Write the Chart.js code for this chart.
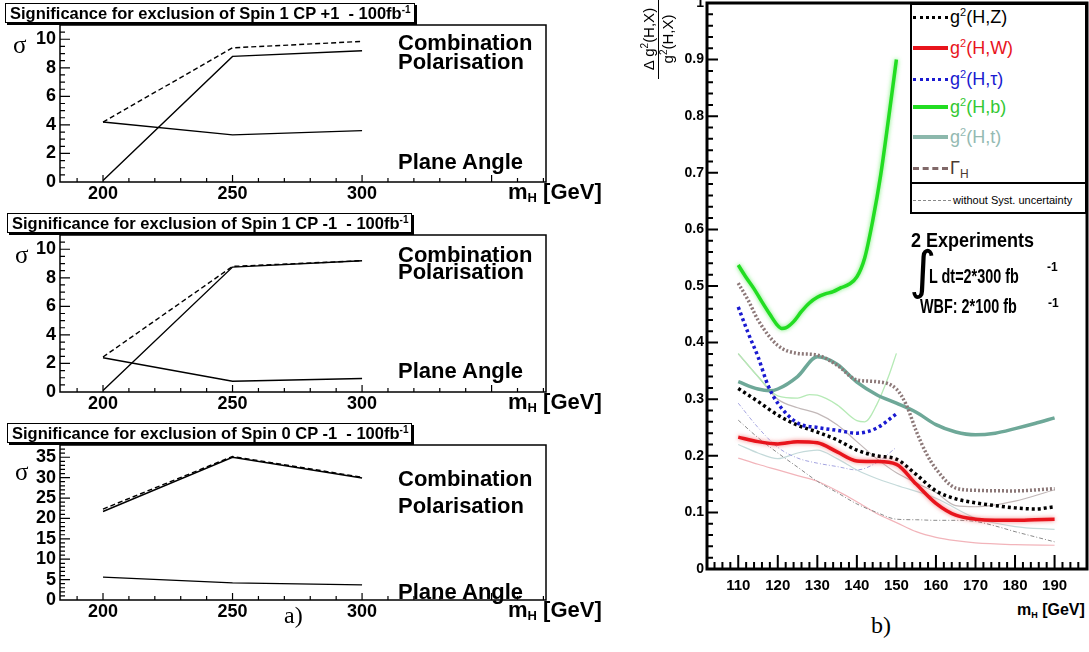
<!DOCTYPE html>
<html><head><meta charset="utf-8">
<script src="https://cdn.jsdelivr.net/npm/chart.js@4.4.1/dist/chart.umd.min.js"></script>
<style>
html,body{margin:0;padding:0;background:#fff;}
body{width:1089px;height:652px;position:relative;overflow:hidden;font-family:"Liberation Sans",Arial,Helvetica,sans-serif;}
canvas{position:absolute;}
.t{position:absolute;white-space:nowrap;color:#000;line-height:1;}
.b{font-weight:bold;}
.title{position:absolute;border:1px solid #000;box-shadow:2px 2px 0 #000;background:#fff;font-weight:bold;font-size:16.5px;height:18px;line-height:18px;padding:0 3px 0 4px;white-space:nowrap;}
.title .sp{font-size:10px;position:relative;top:-6px;}
.big{font-size:22px;font-weight:bold;}
.sig{font-family:"Liberation Serif","Times New Roman",serif;font-size:25px;}
.leg{position:absolute;left:950px;font-size:18px;line-height:20px;height:20px;white-space:nowrap;}
.leg .sp{font-size:11px;position:relative;top:-7px;}
.sw{position:absolute;left:913px;width:35px;height:0;}
.scx{transform-origin:0 0;}
</style></head>
<body>
<canvas id="c1" width="610" height="205" style="left:0;top:0"></canvas>
<canvas id="c2" width="610" height="205" style="left:0;top:210px"></canvas>
<canvas id="c3" width="610" height="203" style="left:0;top:420px"></canvas>
<canvas id="c4" width="479" height="612" style="left:610px;top:-12px"></canvas>

<!-- panel a) texts -->
<div class="title" style="left:5px;top:3px">Significance for exclusion of Spin 1 CP +1&nbsp; - 100fb<span class="sp">-1</span></div>
<div class="title" style="left:7px;top:213px">Significance for exclusion of Spin 1 CP -1&nbsp; - 100fb<span class="sp">-1</span></div>
<div class="title" style="left:7px;top:423px">Significance for exclusion of Spin 0 CP -1&nbsp; - 100fb<span class="sp">-1</span></div>

<div class="t sig" style="left:13px;top:32px">σ</div>
<div class="t sig" style="left:15px;top:242px">σ</div>
<div class="t sig" style="left:15px;top:459px">σ</div>

<div class="t big" style="left:398px;top:32px">Combination</div>
<div class="t big" style="left:398px;top:51px">Polarisation</div>
<div class="t big" style="left:398px;top:151px">Plane Angle</div>
<div class="t big" style="left:398px;top:244px">Combination</div>
<div class="t big" style="left:398px;top:261px">Polarisation</div>
<div class="t big" style="left:398px;top:360px">Plane Angle</div>
<div class="t big" style="left:398px;top:468px">Combination</div>
<div class="t big" style="left:398px;top:495px">Polarisation</div>
<div class="t big" style="left:398px;top:581px">Plane Angle</div>

<div class="t big" style="left:508px;top:181px">m<span style="font-size:13px;position:relative;top:3px">H</span> [GeV]</div>
<div class="t big" style="left:508px;top:391px">m<span style="font-size:13px;position:relative;top:3px">H</span> [GeV]</div>
<div class="t big" style="left:508px;top:599px">m<span style="font-size:13px;position:relative;top:3px">H</span> [GeV]</div>

<div class="t" style="left:284px;top:603px;font-family:'Liberation Serif','Times New Roman',serif;font-size:24px">a)</div>
<div class="t" style="left:871px;top:613px;font-family:'Liberation Serif','Times New Roman',serif;font-size:24px">b)</div>

<!-- panel b) texts -->
<div style="position:absolute;left:620px;top:19px;width:80px;height:40px;transform:rotate(-90deg);transform-origin:center;font-size:15px;line-height:18px;text-align:center;">
  <div style="border-bottom:1.5px solid #000;height:18px;">Δ g<span style="font-size:10px;position:relative;top:-6px">2</span>(H,X)</div>
  <div style="height:18px;">g<span style="font-size:10px;position:relative;top:-6px">2</span>(H,X)</div>
</div>

<div style="position:absolute;left:910px;top:3px;width:173px;height:207px;border:2px solid #000;background:#fff;"></div>
<div style="position:absolute;left:910px;top:182px;width:177px;height:2px;background:#000;"></div>

<div class="sw" style="top:16px;border-top:3px dotted #000;"></div>
<div class="leg" style="top:7px;color:#000">g<span class="sp">2</span>(H,Z)</div>
<div class="sw" style="top:46px;border-top:4px solid #e8141c;"></div>
<div class="leg" style="top:38px;color:#e8141c">g<span class="sp">2</span>(H,W)</div>
<div class="sw" style="top:78px;border-top:3px dotted #1a1ad0;"></div>
<div class="leg" style="top:69px;color:#1a1ad0">g<span class="sp">2</span>(H,τ)</div>
<div class="sw" style="top:105px;border-top:4px solid #22dd22;"></div>
<div class="leg" style="top:97px;color:#33c833">g<span class="sp">2</span>(H,b)</div>
<div class="sw" style="top:135px;border-top:4px solid #8cb8ac;"></div>
<div class="leg" style="top:127px;color:#94bab2">g<span class="sp">2</span>(H,t)</div>
<div class="sw" style="top:167px;border-top:3px dashed #806868;"></div>
<div class="leg" style="top:158px;color:#4a3a30">Γ<span style="font-size:12px;position:relative;top:4px">H</span></div>
<div class="sw" style="top:200px;width:38px;border-top:1px dashed #888;"></div>
<div class="t" style="left:953px;top:195px;font-size:11px;">without Syst. uncertainty</div>

<div class="t b scx" style="left:911px;top:230px;font-size:20px;transform:scaleX(0.9)">2 Experiments</div>
<div class="t" style="left:909px;top:244px;font-family:'DejaVu Sans',sans-serif;font-size:52px;">∫</div>
<div class="t b scx" style="left:929px;top:266px;font-size:20px;transform:scaleX(0.72)">L dt=2*300 fb</div>
<div class="t b" style="left:1047px;top:261px;font-size:12px;">-1</div>
<div class="t b scx" style="left:920px;top:296px;font-size:20px;transform:scaleX(0.72)">WBF: 2*100 fb</div>
<div class="t b" style="left:1048px;top:297px;font-size:12px;">-1</div>

<div class="t b" style="left:1017px;top:602px;font-size:16px">m<span style="font-size:9px;position:relative;top:3px">H</span> [GeV]</div>

<script>
// ---------------- data: panel a) ----------------
const massLeft = [200, 250, 300];
const xLabelsLeft = [200, 250, 300];

const spin1CPplus_combination  = [4.2, 9.4, 9.85];
const spin1CPplus_polarisation = [0.1, 8.8, 9.2];
const spin1CPplus_planeAngle   = [4.2, 3.3, 3.6];

const spin1CPminus_combination  = [2.45, 8.8, 9.2];
const spin1CPminus_polarisation = [0.1, 8.75, 9.2];
const spin1CPminus_planeAngle   = [2.4, 0.75, 0.95];

const spin0CPminus_combination  = [22.3, 35.2, 30.1];
const spin0CPminus_polarisation = [21.7, 35.0, 29.9];
const spin0CPminus_planeAngle   = [5.6, 4.2, 3.7];

const yTicksSpin1 = [0, 2, 4, 6, 8, 10];
const yTicksSpin0 = [0, 5, 10, 15, 20, 25, 30, 35];

// ---------------- data: panel b) ----------------
const xLabelsRight = [110, 120, 130, 140, 150, 160, 170, 180, 190];
const yLabelsRight = [0, 0.1, 0.2, 0.3, 0.4, 0.5, 0.6, 0.7, 0.8, 0.9, 1];

const massZ = [110,115,120,125,130,135,140,145,150,155,160,165,170,175,180,185,190];
const gHZ   = [0.319,0.296,0.272,0.254,0.242,0.228,0.210,0.200,0.194,0.167,0.138,0.124,0.117,0.112,0.108,0.106,0.110];

const massW = [110,115,120,125,130,135,140,145,150,155,160,165,170,175,180,185,190];
const gHW   = [0.233,0.225,0.221,0.225,0.223,0.207,0.191,0.190,0.185,0.150,0.116,0.095,0.088,0.086,0.086,0.087,0.088];

const massTau = [110,112.5,115,117.5,120,125,130,135,140,145,150];
const gHTau   = [0.463,0.417,0.375,0.325,0.293,0.258,0.250,0.245,0.240,0.249,0.274];

const massB = [110,112,114,116,118,120,121,122,124,126,128,130,132,134,136,138,140,142,144,146,148,150];
const gHB   = [0.537,0.515,0.495,0.472,0.450,0.430,0.425,0.426,0.437,0.455,0.470,0.480,0.486,0.490,0.497,0.503,0.516,0.550,0.615,0.695,0.795,0.900];

const massT = [110,115,118,120,125,130,135,140,145,150,155,160,165,170,175,180,185,190];
const gHT   = [0.331,0.318,0.315,0.318,0.340,0.375,0.362,0.330,0.308,0.293,0.277,0.255,0.242,0.237,0.240,0.248,0.257,0.267];

const massGamma = [110,112.5,115,120,125,130,135,140,145,150,152.5,155,157.5,160,165,170,180,190];
const gammaH    = [0.505,0.475,0.440,0.395,0.381,0.378,0.360,0.334,0.331,0.318,0.290,0.244,0.205,0.177,0.143,0.139,0.138,0.142];

// without systematic uncertainty
const massZnoSyst = [110,115,120,125,130,135,140,145,150,155,160,165,170,175,180,185,190];
const gHZnoSyst   = [0.263,0.232,0.205,0.180,0.155,0.135,0.115,0.100,0.088,0.087,0.086,0.086,0.084,0.076,0.066,0.057,0.048];

const massWnoSyst = [110,115,120,125,130,135,140,145,150,155,160,165,170,180,190];
const gHWnoSyst   = [0.196,0.185,0.175,0.165,0.155,0.138,0.119,0.098,0.082,0.066,0.056,0.050,0.046,0.043,0.042];

const massTauNoSyst = [110,115,120,125,130,135,140,145,150];
const gHTauNoSyst   = [0.293,0.250,0.215,0.196,0.187,0.181,0.175,0.188,0.215];

const massBnoSyst = [110,115,120,125,128,130,135,140,142,145,148,150];
const gHBnoSyst   = [0.381,0.340,0.306,0.302,0.308,0.307,0.290,0.262,0.260,0.290,0.340,0.381];

const massTnoSyst = [110,115,120,125,130,135,140,145,150,160,170,180,190];
const gHTnoSyst   = [0.220,0.205,0.195,0.205,0.210,0.195,0.175,0.160,0.148,0.125,0.090,0.075,0.070];

const massGammaNoSyst = [110,115,120,125,130,135,140,145,150,155,160,165,170,180,190];
const gammaHnoSyst    = [0.380,0.340,0.300,0.285,0.275,0.255,0.225,0.195,0.170,0.152,0.135,0.112,0.110,0.120,0.140];

// ---------------- helpers ----------------
const FONT = '"Liberation Sans", Arial, Helvetica, sans-serif';
function range(a, b, s) { const r = []; for (let v = a; v <= b + 1e-9; v += s) r.push(+v.toFixed(6)); return r; }
function pts(xs, ys) { return xs.map((x, i) => ({x: x, y: ys[i]})); }

const frameTicks = {
  id: 'frameTicks',
  afterDatasetsDraw(chart, args, o) {
    const ctx = chart.ctx, a = chart.chartArea, x = chart.scales.x, y = chart.scales.y;
    ctx.save();
    ctx.strokeStyle = '#000';
    ctx.lineCap = 'butt';
    function drawX(vals, len) {
      vals.forEach(v => { const p = x.getPixelForValue(v); if (p < a.left + 1 || p > a.right - 1) return; ctx.moveTo(p, a.bottom); ctx.lineTo(p, a.bottom - len); });
    }
    function drawY(vals, len) {
      vals.forEach(v => { const p = y.getPixelForValue(v); if (p < a.top + 1 || p > a.bottom - 1) return; ctx.moveTo(a.left, p); ctx.lineTo(a.left + len, p); });
    }
    ctx.lineWidth = o.tickWidth;
    ctx.beginPath();
    drawX(o.xMinor, o.xMinorLen); drawX(o.xMajor, o.xMajorLen);
    drawY(o.yMinor, o.yMinorLen); drawY(o.yMajor, o.yMajorLen);
    ctx.stroke();
    ctx.lineWidth = o.frameWidth;
    ctx.strokeRect(a.left, a.top, a.right - a.left, a.bottom - a.top);
    ctx.restore();
  }
};

const glow = {
  id: 'glow',
  beforeDatasetDraw(chart, args) {
    const ds = chart.data.datasets[args.index];
    chart.ctx.save();
    if (ds.glowColor) { chart.ctx.shadowColor = ds.glowColor; chart.ctx.shadowBlur = 4; }
  },
  afterDatasetDraw(chart) { chart.ctx.restore(); }
};

function leftChart(id, comb, pol, plane, yMax, yTicks, yMinorStep) {
  const line = {borderColor: '#000', borderWidth: 1.4, pointRadius: 0, tension: 0, fill: false};
  new Chart(document.getElementById(id), {
    type: 'line',
    data: { datasets: [
      Object.assign({data: pts(massLeft, comb), borderDash: [5, 3]}, line),
      Object.assign({data: pts(massLeft, pol)}, line),
      Object.assign({data: pts(massLeft, plane)}, line)
    ]},
    options: {
      responsive: false, animation: false, events: [],
      layout: {padding: {top: 25, right: 64, left: 0, bottom: 0}},
      plugins: {
        legend: {display: false}, tooltip: {enabled: false},
        frameTicks: {
          xMajor: [200, 250, 300, 350], xMinor: range(190, 370, 10), xMajorLen: 7, xMinorLen: 4,
          yMajor: yTicks, yMinor: range(0, yMax, yMinorStep), yMajorLen: 10, yMinorLen: 5,
          tickWidth: 1.2, frameWidth: 1.5
        }
      },
      scales: {
        x: {
          type: 'linear', min: 183.4, max: 371,
          afterBuildTicks: s => { s.ticks = xLabelsLeft.map(v => ({value: v})); },
          afterFit: s => { s.height = 23; },
          grid: {display: false, drawTicks: false}, border: {display: false},
          ticks: {color: '#000', font: {family: FONT, size: 18, weight: 'bold'}, padding: 1, maxRotation: 0, autoSkip: false}
        },
        y: {
          type: 'linear', min: 0, max: yMax,
          afterBuildTicks: s => { s.ticks = yTicks.map(v => ({value: v})); },
          afterFit: s => { s.width = 60; },
          grid: {display: false, drawTicks: false}, border: {display: false},
          ticks: {color: '#000', font: {family: FONT, size: 18, weight: 'bold'}, padding: 4, autoSkip: false}
        }
      }
    },
    plugins: [frameTicks]
  });
}

leftChart('c1', spin1CPplus_combination, spin1CPplus_polarisation, spin1CPplus_planeAngle, 11, yTicksSpin1, 0.5);
leftChart('c2', spin1CPminus_combination, spin1CPminus_polarisation, spin1CPminus_planeAngle, 11, yTicksSpin1, 0.5);
leftChart('c3', spin0CPminus_combination, spin0CPminus_polarisation, spin0CPminus_planeAngle, 38, yTicksSpin0, 1);

// ---------------- right chart ----------------
function curve(xs, ys, color, width, dash, glowColor) {
  return {data: pts(xs, ys), borderColor: color, borderWidth: width, borderDash: dash || [], pointRadius: 0,
          cubicInterpolationMode: 'monotone', fill: false, glowColor: glowColor || null, borderCapStyle: 'butt'};
}

new Chart(document.getElementById('c4'), {
  type: 'line',
  data: { datasets: [
    curve(massB, gHB, '#22dd22', 3.5, null, 'rgba(60,230,60,0.7)'),
    curve(massTau, gHTau, '#1a1ad0', 3.5, [3, 3]),
    curve(massW, gHW, '#e8141c', 3.5, null, 'rgba(240,80,80,0.7)'),
    curve(massZ, gHZ, '#000000', 3.5, [3, 3]),
    curve(massGamma, gammaH, '#8c7878', 3.5, [2, 2]),
    curve(massT, gHT, '#6ea898', 3.5),
    curve(massBnoSyst, gHBnoSyst, '#b6eab6', 1.3),
    curve(massTauNoSyst, gHTauNoSyst, '#a4a4e0', 1, [4, 2, 1, 2]),
    curve(massZnoSyst, gHZnoSyst, '#8a8a8a', 1, [4, 2, 1, 2]),
    curve(massWnoSyst, gHWnoSyst, '#f2b4ba', 1.2),
    curve(massTnoSyst, gHTnoSyst, '#c4dada', 1.2),
    curve(massGammaNoSyst, gammaHnoSyst, '#c2b8b8', 1.2)
  ]},
  options: {
    responsive: false, animation: false, events: [],
    layout: {padding: {top: 15, right: 2, left: 0, bottom: 0}},
    plugins: {
      legend: {display: false}, tooltip: {enabled: false},
      frameTicks: {
        xMajor: xLabelsRight, xMinor: range(104, 198, 2), xMajorLen: 14, xMinorLen: 7,
        yMajor: yLabelsRight, yMinor: range(0, 1, 0.02), yMajorLen: 11, yMinorLen: 6,
        tickWidth: 2, frameWidth: 3
      }
    },
    scales: {
      x: {
        type: 'linear', min: 102.1, max: 198.2,
        afterBuildTicks: s => { s.ticks = xLabelsRight.map(v => ({value: v})); },
        afterFit: s => { s.height = 31; },
        grid: {display: false, drawTicks: false}, border: {display: false},
        ticks: {color: '#000', font: {family: FONT, size: 15, weight: 'bold'}, padding: 8, maxRotation: 0, autoSkip: false}
      },
      y: {
        type: 'linear', min: 0, max: 1,
        afterBuildTicks: s => { s.ticks = yLabelsRight.map(v => ({value: v})); },
        afterFit: s => { s.width = 97; },
        grid: {display: false, drawTicks: false}, border: {display: false},
        ticks: {color: '#000', font: {family: FONT, size: 14, weight: 'bold'}, padding: 3, autoSkip: false,
                callback: v => (v === 0 || v === 1) ? String(v) : v.toFixed(1)}
      }
    }
  },
  plugins: [glow, frameTicks]
});
</script>
</body></html>
